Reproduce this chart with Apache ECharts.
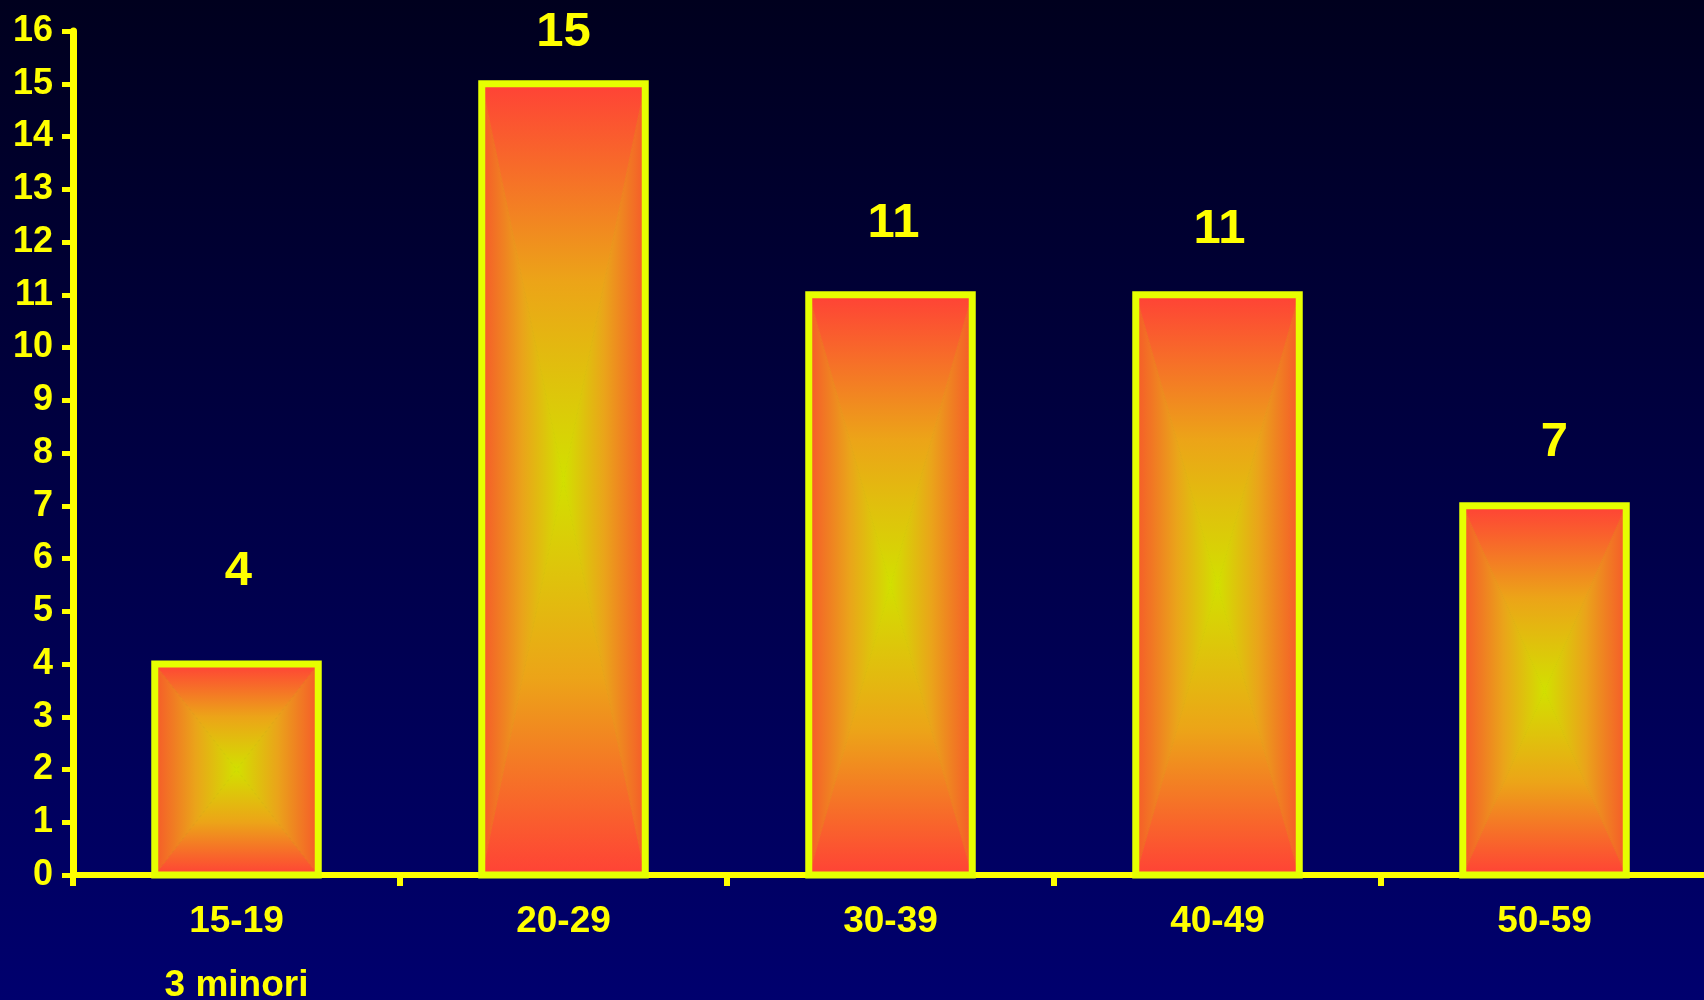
<!DOCTYPE html>
<html>
<head>
<meta charset="utf-8">
<script src="https://cdn.jsdelivr.net/npm/echarts@6/dist/echarts.min.js"></script>
<style>
html,body{margin:0;padding:0;background:#000040;}
#chart{width:1704px;height:1000px;}
</style>
</head>
<body>
<div id="chart"></div>
<script>
// ---- data ----
const categories = ['15-19', '20-29', '30-39', '40-49', '50-59'];
const subLabels = ['3 minori', '', '', '', ''];
const values = [4, 15, 11, 11, 7];
const yTicks = { min: 0, max: 16, interval: 1 };

// ---- layout (label offsets in px) ----
const labelGap = [93, 51, 71, 65, 63];
const labelDx = [2, 0, 3, 2, 10];

const FONT = '"Liberation Sans", Arial, sans-serif';
const YELLOW = '#ffff00';
const BORDER = '#e6ff00';
const stopsV = [
  { offset: 0, color: '#d2e000' },
  { offset: 0.5, color: '#eca418' },
  { offset: 1, color: '#ff4236' }
];
const stopsH = [
  { offset: 0, color: '#d2e000' },
  { offset: 0.5, color: '#eaa41a' },
  { offset: 1, color: '#f65a2a' }
];

function grad(x, y, x2, y2, stops) {
  return { type: 'linear', x: x, y: y, x2: x2, y2: y2, global: true, colorStops: stops };
}

const chart = echarts.init(document.getElementById('chart'));
chart.setOption({
  backgroundColor: {
    type: 'linear', x: 0, y: 0, x2: 0, y2: 1,
    colorStops: [{ offset: 0, color: '#00001e' }, { offset: 1, color: '#00006e' }]
  },
  animation: false,
  grid: { left: 73, right: -4, top: 31, bottom: 125, containLabel: false, outerBoundsMode: 'none' },
  xAxis: {
    type: 'category',
    data: categories,
    boundaryGap: true,
    axisLine: { lineStyle: { color: YELLOW, width: 6 } },
    axisTick: { show: true, length: 11, lineStyle: { color: YELLOW, width: 6 } },
    axisLabel: {
      color: YELLOW, fontFamily: FONT, fontWeight: 'bold', fontSize: 37,
      lineHeight: 64, margin: 15,
      formatter: function (val, idx) {
        return subLabels[idx] ? val + '\n' + subLabels[idx] : val;
      }
    },
    splitLine: { show: false }
  },
  yAxis: {
    type: 'value',
    min: yTicks.min, max: yTicks.max, interval: yTicks.interval,
    axisLine: { show: true, lineStyle: { color: YELLOW, width: 7 } },
    axisTick: { show: true, length: 11, lineStyle: { color: YELLOW, width: 5 } },
    axisLabel: { color: YELLOW, fontFamily: FONT, fontWeight: 'bold', fontSize: 36, margin: 20 },
    splitLine: { show: false }
  },
  series: [{
    type: 'custom',
    clip: false,
    encode: { x: 0, y: 1 },
    data: values.map(function (v, i) { return [i, v]; }),
    renderItem: function (params, api) {
      const idx = api.value(0);
      const v = api.value(1);
      const top = api.coord([idx, v]);
      const base = api.coord([idx, 0]);
      const w = api.size([1, 0])[0] * 0.5;
      const cx = top[0];
      const x0 = cx - w / 2, x1 = cx + w / 2;
      const y0 = top[1], y1 = base[1];
      const cy = (y0 + y1) / 2;
      function tri(pts, g) {
        return {
          type: 'polygon', shape: { points: pts },
          style: { fill: g, stroke: g, lineWidth: 1 }
        };
      }
      return {
        type: 'group',
        children: [
          tri([[x0, y0], [x1, y0], [cx, cy]], grad(cx, cy, cx, y0, stopsV)),
          tri([[x0, y1], [x1, y1], [cx, cy]], grad(cx, cy, cx, y1, stopsV)),
          tri([[x0, y0], [x0, y1], [cx, cy]], grad(cx, cy, x0, cy, stopsH)),
          tri([[x1, y0], [x1, y1], [cx, cy]], grad(cx, cy, x1, cy, stopsH)),
          {
            type: 'rect',
            shape: { x: x0, y: y0, width: w, height: y1 - y0 },
            style: { fill: null, stroke: BORDER, lineWidth: 7, lineJoin: 'miter' }
          },
          {
            type: 'text',
            style: {
              text: String(values[idx]),
              x: cx + labelDx[idx], y: y0 - labelGap[idx],
              align: 'center', verticalAlign: 'middle',
              fill: YELLOW, font: 'bold 49px ' + FONT
            }
          }
        ]
      };
    }
  }]
});
</script>
</body>
</html>
